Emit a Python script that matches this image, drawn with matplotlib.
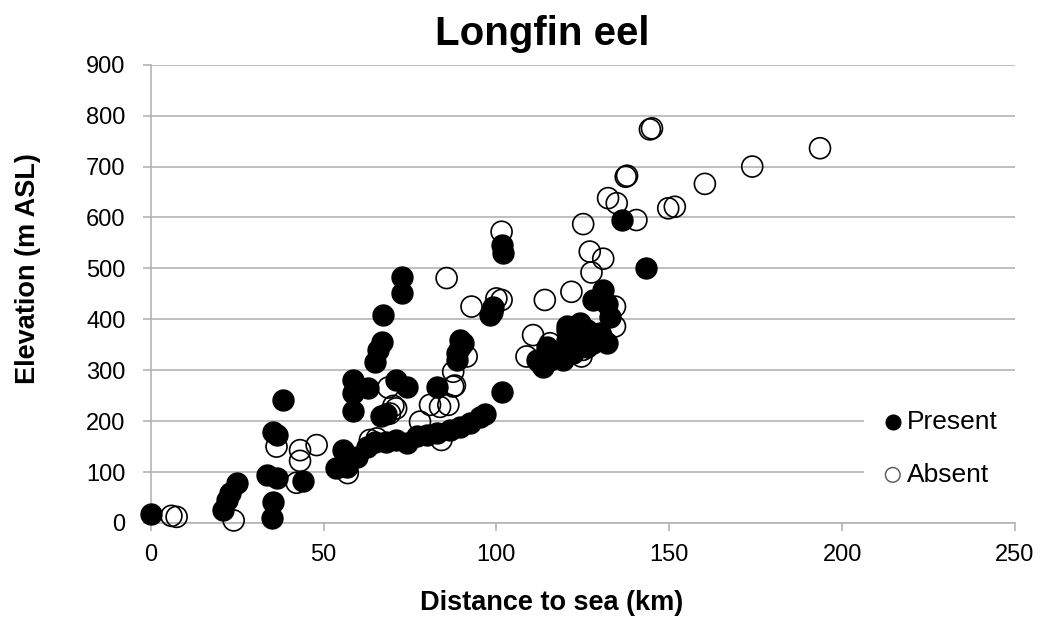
import matplotlib
matplotlib.use("Agg")
import matplotlib.pyplot as plt

plt.rcParams["font.family"] = ["Liberation Sans", "DejaVu Sans"]

GRID = "#b4b4b4"

# Present (filled circles): distance to sea (km), elevation (m ASL)
present_x = [0, 21, 22, 23, 25, 33.5, 35.5, 35, 36.4, 35.5, 36.5, 38.3, 44.1,
             53.5, 55.7, 56.7, 58.6, 58.6, 58.6, 59.6, 62.5, 62.9, 64.9, 64.9,
             65.8, 66.8, 67.3, 66.5, 68.2, 68.2, 71.1, 71.1, 72.6, 72.6, 74, 74,
             76.9, 79.8, 82.7, 82.7, 86.6, 88.5, 88.5, 89.4, 89.4, 90.4, 89.4,
             92.3, 95.2, 96.7, 98.1, 98.6, 99.1, 101.5, 101.5, 102,
             111.6, 113.5, 112.6, 115.5, 114.5, 118.4, 119.3, 120.3, 120.3,
             120.3, 120.3, 122.2, 123.2, 124.1, 126.1, 126.1, 128, 129.9, 131.9,
             128, 130.9, 131.9, 132.8, 136.2, 143.4]
present_y = [18, 26, 45, 58, 78, 94, 42, 10, 88, 179, 172, 242, 83,
             107, 143, 110, 219, 255, 281, 130, 150, 265, 160, 317,
             340, 356, 408, 210, 215, 160, 163, 281, 484, 451, 157, 268,
             170, 173, 176, 268, 183, 320, 333, 346, 359, 353, 189,
             196, 209, 215, 408, 415, 425, 258, 546, 530,
             320, 307, 314, 320, 346, 333, 320, 340, 359,
             379, 386, 333, 359, 392, 379, 346, 353, 373, 353,
             438, 458, 431, 405, 595, 500]

# Absent (open circles)
absent_x = [6, 7.5, 24, 36.4, 42.2, 43.2, 43.2, 48, 57, 63.4, 65.4, 68.7, 69.2,
            70.2, 71, 77.9, 80.8, 83.7, 84.1, 86.1, 87.5, 88, 87.5, 91.4, 85.6,
            92.8, 100, 101.5, 101.5, 108.7, 110.6, 115.5, 114, 121.7, 124.6,
            125, 122.5, 130.5, 125.1, 127, 127.5, 130.9, 132.3, 134.3, 134.3,
            134.8, 137.4, 137.8, 140.5, 144.4, 145, 149.7, 151.6, 160.3, 174,
            193.6]
absent_y = [14, 12, 5, 150, 79, 143, 122, 153, 98, 163, 166, 266, 215,
            230, 225, 199, 232, 228, 163, 232, 268, 270, 297, 327, 481,
            425, 441, 438, 572, 327, 369, 353, 438, 454, 327,
            340, 347, 365, 587, 533, 492, 519, 638, 386, 425,
            628, 680, 682, 595, 773, 775, 618, 621, 666, 700,
            736]

fig = plt.figure(figsize=(10.53, 6.32), dpi=100)
ax = fig.add_axes([0.1431, 0.1725, 0.8208, 0.7251])

ax.scatter(absent_x, absent_y, s=228, facecolors="none", edgecolors="black",
           linewidths=1.2, label="Absent", zorder=3, clip_on=False)
ax.scatter(present_x, present_y, s=228, facecolors="black", edgecolors="black",
           linewidths=1.0, label="Present", zorder=4, clip_on=False)

ax.set_xlim(0, 250)
ax.set_ylim(0, 900)
ax.set_xticks(range(0, 251, 50))
ax.set_yticks(range(0, 901, 100))
ax.grid(axis="y", color=GRID, linewidth=1.2, zorder=0)
ax.set_axisbelow(True)
for side in ["top", "right"]:
    ax.spines[side].set_visible(False)
for side in ["left", "bottom"]:
    ax.spines[side].set_color(GRID)
    ax.spines[side].set_linewidth(1.2)
ax.tick_params(axis="both", colors=GRID, labelcolor="black", labelsize=17,
               length=6, width=1.2)
ax.tick_params(axis="x", pad=9)
ax.tick_params(axis="y", pad=12)

ax.set_title("Longfin eel", fontsize=29, fontweight="bold", pad=14)
ax.title.set_x(0.4527)
ax.set_xlabel("Distance to sea (km)", fontsize=19.5, fontweight="bold")
ax.set_ylabel("Elevation (m ASL)", fontsize=19.5, fontweight="bold")
ax.xaxis.set_label_coords(0.4643, -0.146)
ax.yaxis.set_label_coords(-0.127, 0.556)

handles, labels = ax.get_legend_handles_labels()
leg = ax.legend(handles[::-1], labels[::-1], loc="center left",
                bbox_to_anchor=(0.825, 0.163), fontsize=19, frameon=True,
                facecolor="white", edgecolor="none", framealpha=1,
                markerscale=0.7, handlelength=0.6, handletextpad=0.25,
                borderpad=0.8, labelspacing=1.1, borderaxespad=0)
leg.legend_handles[1].set_edgecolor("#555555")
leg.legend_handles[1].set_linewidth(1.0)

fig.savefig("out.png", dpi=100, facecolor="white")
